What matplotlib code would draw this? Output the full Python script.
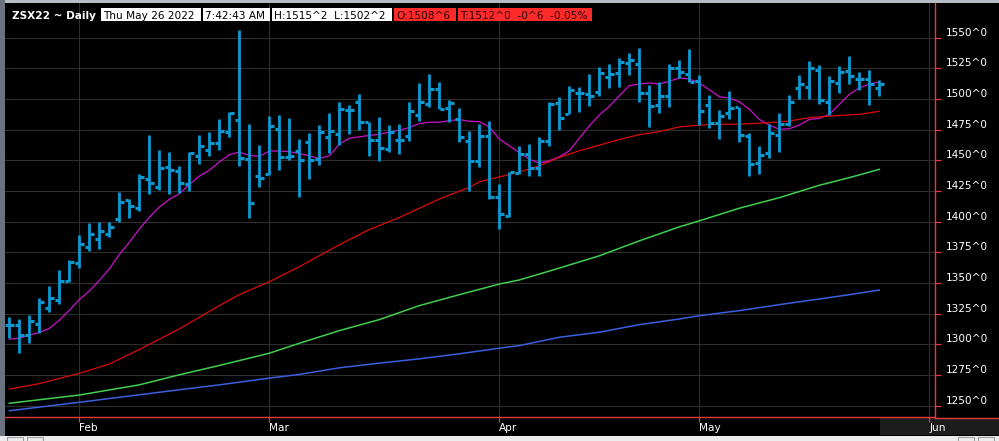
import matplotlib
matplotlib.use('Agg')
import matplotlib.pyplot as plt
from matplotlib.patches import Rectangle
import numpy as np

W, H = 999, 441

# daily OHLC, 21 Jan .. 26 May 2022 (one entry per session)
opens = [1315.8, 1316.0, 1308.0, 1317.0, 1330.0, 1336.0, 1351.9, 1366.5, 1379.7, 1386.0,
         1390.0, 1402.4, 1417.6, 1411.0, 1435.0, 1428.5, 1444.8, 1441.6, 1431.0, 1453.3,
         1458.7, 1464.4, 1472.8, 1483.2, 1450.8, 1437.5, 1439.1, 1475.8, 1453.0, 1457.6,
         1464.8, 1451.3, 1468.9, 1471.6, 1491.4, 1497.3, 1481.4, 1466.5, 1458.9, 1466.7,
         1469.7, 1487.1, 1496.3, 1507.9, 1492.5, 1483.5, 1465.4, 1449.1, 1469.7, 1419.9,
         1405.0, 1439.4, 1455.1, 1443.7, 1465.9, 1496.8, 1488.1, 1504.7, 1504.4, 1506.0,
         1517.8, 1521.3, 1529.2, 1528.7, 1504.9, 1495.1, 1502.7, 1525.4, 1520.5, 1514.5,
         1495.1, 1480.3, 1488.5, 1493.2, 1469.8, 1447.8, 1456.0, 1470.7, 1479.9, 1508.7,
         1509.8, 1523.4, 1497.8, 1513.3, 1522.8, 1516.0, 1516.0, 1508.75]
highs = [1322.0, 1321.0, 1323.8, 1338.0, 1347.3, 1360.3, 1368.9, 1389.2, 1399.2, 1399.7,
         1399.7, 1424.3, 1418.4, 1438.6, 1470.4, 1458.2, 1456.5, 1445.1, 1456.5, 1470.4,
         1472.8, 1483.4, 1489.1, 1556.0, 1479.9, 1462.2, 1485.9, 1486.7, 1484.2, 1467.5,
         1472.4, 1478.9, 1488.4, 1497.3, 1495.2, 1504.1, 1481.4, 1485.4, 1478.9, 1479.7,
         1497.3, 1512.8, 1520.1, 1513.9, 1499.0, 1492.5, 1474.0, 1480.0, 1482.2, 1430.7,
         1440.7, 1461.9, 1463.2, 1469.2, 1497.6, 1501.7, 1510.6, 1509.8, 1520.1, 1526.5,
         1528.7, 1533.6, 1537.7, 1541.8, 1511.8, 1514.2, 1528.7, 1532.2, 1540.4, 1520.0,
         1503.6, 1491.3, 1506.8, 1493.7, 1472.0, 1461.4, 1479.4, 1488.6, 1503.3, 1519.6,
         1531.0, 1527.7, 1518.8, 1526.9, 1535.0, 1522.3, 1523.4, 1515.25]
lows = [1305.4, 1292.7, 1300.8, 1309.0, 1326.0, 1333.2, 1350.8, 1362.2, 1376.0, 1377.6,
        1387.3, 1399.7, 1402.7, 1408.4, 1422.6, 1425.8, 1422.6, 1423.4, 1425.0, 1447.0,
        1453.5, 1458.4, 1469.0, 1445.4, 1403.0, 1428.3, 1438.3, 1442.1, 1450.5, 1419.8,
        1434.5, 1446.4, 1456.2, 1462.9, 1471.1, 1474.9, 1453.2, 1449.9, 1457.0, 1454.8,
        1465.4, 1482.2, 1493.6, 1491.7, 1481.6, 1464.6, 1425.3, 1444.2, 1418.5, 1394.1,
        1404.1, 1438.8, 1436.9, 1437.5, 1461.9, 1474.9, 1487.6, 1489.5, 1494.4, 1502.7,
        1508.7, 1509.6, 1519.7, 1497.3, 1477.6, 1488.5, 1493.2, 1516.9, 1513.7, 1479.0,
        1476.0, 1467.2, 1483.6, 1465.0, 1437.5, 1439.1, 1452.2, 1457.1, 1477.7, 1500.3,
        1500.3, 1496.2, 1487.0, 1505.2, 1512.5, 1507.1, 1494.8, 1502.25]
closes = [1316.2, 1307.3, 1319.2, 1334.3, 1338.1, 1351.9, 1367.0, 1381.9, 1390.0, 1392.7,
          1395.7, 1416.2, 1412.7, 1436.8, 1431.8, 1444.0, 1442.4, 1431.8, 1456.0, 1461.4,
          1463.9, 1473.6, 1488.3, 1451.6, 1415.5, 1435.9, 1477.7, 1453.0, 1453.8, 1450.3,
          1450.3, 1473.2, 1474.0, 1491.7, 1491.1, 1481.1, 1466.5, 1460.0, 1473.5, 1466.7,
          1490.0, 1497.3, 1507.9, 1491.7, 1496.8, 1469.2, 1449.1, 1469.7, 1420.4, 1406.3,
          1440.2, 1455.6, 1443.7, 1465.9, 1495.7, 1484.9, 1507.1, 1505.2, 1502.8, 1521.3,
          1520.5, 1530.0, 1532.2, 1504.9, 1494.3, 1502.7, 1525.1, 1521.9, 1513.7, 1490.4,
          1480.3, 1486.3, 1492.6, 1470.5, 1447.3, 1454.4, 1472.3, 1479.9, 1497.8, 1512.0,
          1525.0, 1498.9, 1514.7, 1522.0, 1518.8, 1516.0, 1512.5, 1512.0]

# short moving average (magenta), one value per session
ma_fast = [1304.3, 1305.0, 1307.6, 1309.7, 1313.0, 1319.7, 1327.8, 1336.5, 1343.5, 1352.2,
           1361.6, 1373.2, 1383.2, 1394.0, 1403.6, 1412.0, 1418.2, 1422.8, 1430.2, 1437.2,
           1441.9, 1448.7, 1454.6, 1456.8, 1454.1, 1453.3, 1457.6, 1457.6, 1457.1, 1455.6,
           1453.7, 1451.6, 1453.7, 1463.2, 1468.1, 1469.2, 1470.3, 1471.3, 1473.0, 1474.6,
           1476.8, 1480.0, 1481.1, 1481.1, 1482.4, 1483.3, 1481.9, 1481.6, 1477.3, 1467.5,
           1461.9, 1456.4, 1451.0, 1447.8, 1449.7, 1452.9, 1457.8, 1468.1, 1478.1, 1487.0,
           1494.0, 1502.7, 1510.9, 1512.3, 1513.1, 1512.3, 1514.5, 1517.2, 1516.4, 1513.1,
           1507.6, 1501.9, 1500.8, 1497.8, 1491.7, 1483.4, 1478.8, 1475.3, 1475.8, 1478.8,
           1483.4, 1484.2, 1487.5, 1495.7, 1503.8, 1509.2, 1512.0, 1514.1]

# longer averages, read at selected sessions (session number, 0 = 21 Jan)
ma_red_idx = [0, 3, 7, 10, 13, 17, 21, 23, 26, 29, 33, 36, 39, 43, 46, 47, 51, 53, 55,
              57, 59, 61, 63, 65, 67, 69, 71, 73, 76, 78, 80, 82, 85, 87]
ma_red = [1263.5, 1268.0, 1276.4, 1284.0, 1295.8, 1312.6, 1331.6, 1340.5, 1351.1, 1363.3,
          1381.2, 1393.6, 1403.4, 1418.5, 1428.0, 1432.5, 1440.5, 1445.6, 1452.4, 1457.8,
          1462.4, 1467.0, 1471.0, 1473.5, 1477.3, 1478.7, 1479.5, 1479.5, 1480.7, 1482.1,
          1484.8, 1486.1, 1487.5, 1490.0]
ma_long_idx = [0, 7, 13, 17, 21, 26, 29, 33, 37, 41, 45, 49, 51, 55, 59, 63, 67, 69, 73,
               77, 81, 84, 87]
ma_green = [1252.0, 1258.7, 1267.0, 1275.2, 1282.8, 1292.8, 1300.9, 1311.2, 1320.2, 1331.6,
            1340.5, 1349.2, 1352.5, 1362.2, 1372.2, 1384.4, 1395.8, 1400.7, 1411.0, 1419.6,
            1429.7, 1435.9, 1442.7]
ma_blue = [1245.9, 1252.8, 1258.9, 1263.0, 1267.0, 1272.5, 1275.5, 1280.9, 1284.7, 1288.2,
           1292.3, 1296.9, 1299.0, 1305.8, 1309.9, 1316.1, 1320.7, 1323.4, 1327.5, 1332.4,
           1337.0, 1340.5, 1344.3]

month_pos = [7, 26, 49, 69, 92]
month_names = ['Feb', 'Mar', 'Apr', 'May', 'Jun']
price_ticks = list(range(1250, 1551, 25))

bar_c = '#0b9ad3'
red = '#e8383d'

fig = plt.figure(figsize=(W / 100, H / 100), dpi=100, facecolor='black')

# background chrome (drawn beneath the chart axes)
bg = fig.add_axes([0, 0, 1, 1], zorder=-1)
bg.set_xlim(0, W)
bg.set_ylim(H, 0)
bg.axis('off')
bg.patch.set_visible(False)
bg.add_patch(Rectangle((0, 0), W, 2.5, color='#b8bcc4', lw=0))
bg.add_patch(Rectangle((0, 0), 5, 436, color='#6b7380', lw=0))
bg.add_patch(Rectangle((880, 418), W - 880, 17, color='#1c1c1c', lw=0))
bg.add_patch(Rectangle((0, 436), W, 5, color='#ececec', lw=0))
for bx in [7, 27, 958, 978]:
    bg.add_patch(Rectangle((bx, 437), 16, 6, fill=False, ec='#a0a0a0', lw=0.8))
bg.plot([935, W], [417.5, 417.5], color=red, lw=1.0)

ax = fig.add_axes([5 / W, 24 / H, 930 / W, 414 / H], facecolor='black')

x = np.arange(len(opens))
ax.vlines(x, lows, highs, color=bar_c, lw=2.0, capstyle='butt', zorder=3)
ax.hlines(opens, x - 0.43, x - 0.1, color=bar_c, lw=2.2, capstyle='butt', zorder=3)
ax.hlines(closes, x + 0.1, x + 0.43, color=bar_c, lw=2.2, capstyle='butt', zorder=3)

ax.plot(x, ma_fast, color='#cc10cc', lw=0.9, zorder=2)
ax.plot(ma_red_idx, ma_red, color='#dd0a0a', lw=0.9, zorder=2)
ax.plot(ma_long_idx, ma_green, color='#3fcf4f', lw=1.1, zorder=2)
ax.plot(ma_long_idx, ma_blue, color='#3a5fe0', lw=1.1, zorder=2)

ax.set_xlim(-0.43, 92.57)
ax.set_ylim(1240.8, 1578.3)

ax.set_axisbelow(True)
ax.grid(True, color='#2e2e2e', lw=0.8)
for s in ['left', 'top']:
    ax.spines[s].set_visible(False)
for s in ['right', 'bottom']:
    ax.spines[s].set_color(red)
    ax.spines[s].set_linewidth(1.0)

ax.yaxis.tick_right()
ax.set_yticks(price_ticks)
ax.set_yticklabels([f'{v}^0' for v in price_ticks])
ax.tick_params(axis='y', color=red, length=4.3, width=0.9, pad=3.4,
               labelcolor='white', labelsize=7.6)
for lbl in ax.get_yticklabels():
    lbl.set_va('bottom')

ax.set_xticks(month_pos)
ax.set_xticklabels(month_names)
ax.tick_params(axis='x', color=red, length=3.6, width=0.9, pad=0.8,
               labelcolor='white', labelsize=7.6)
for lbl in ax.get_xticklabels():
    lbl.set_ha('left')

# header strip, in pixel coordinates, over the chart
ov = fig.add_axes([0, 0, 1, 1], zorder=2)
ov.set_xlim(0, W)
ov.set_ylim(H, 0)
ov.axis('off')
ov.patch.set_visible(False)

ov.text(12, 19, 'ZSX22 ~ Daily', color='white', fontsize=7.6, fontweight='bold',
        va='baseline', ha='left')
boxes = [(101, 201, 'white', 'black', 'Thu May 26 2022'),
         (203, 270, 'white', 'black', '7:42:43 AM'),
         (272, 392, 'white', 'black', 'H:1515^2  L:1502^2'),
         (394, 456, '#ff2a2a', '#2a0000', 'O:1508^6'),
         (458, 592, '#ff2a2a', '#2a0000', 'T:1512^0  -0^6  -0.05%')]
for x0, x1, bgc, fg, txt in boxes:
    ov.add_patch(Rectangle((x0, 8), x1 - x0, 13, color=bgc, lw=0))
    ov.text(x0 + 2, 19, txt, color=fg, fontsize=7.6, va='baseline', ha='left')

fig.savefig('out.png', dpi=100, facecolor='black')
